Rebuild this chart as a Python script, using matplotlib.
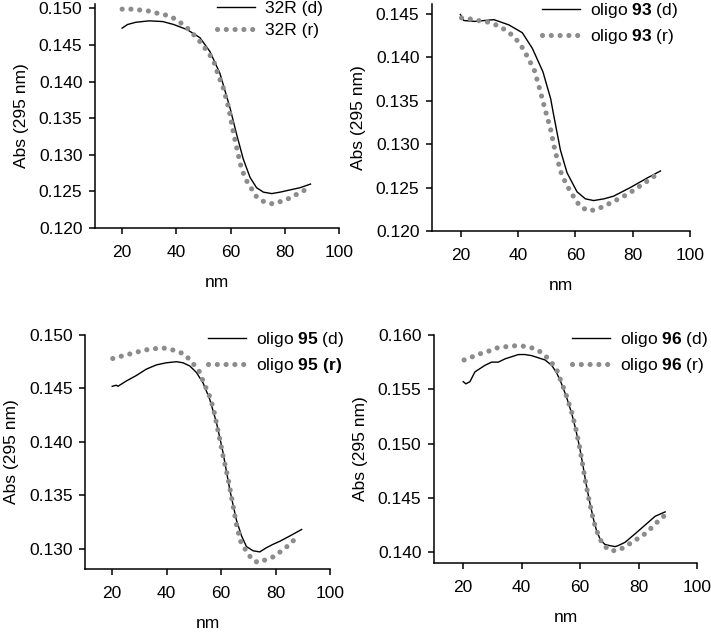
import numpy as np
import matplotlib
matplotlib.use("Agg")
import matplotlib.pyplot as plt

plt.rcParams['font.family'] = ['Liberation Sans', 'DejaVu Sans']
plt.rcParams['font.size'] = 12.5
plt.rcParams['mathtext.fontset'] = 'custom'
plt.rcParams['mathtext.rm'] = 'Liberation Sans'
plt.rcParams['mathtext.bf'] = 'Liberation Sans:bold'

# ---- data ----
# 32R
x32_d = [20, 22, 25, 30, 35, 39, 44, 48.7, 52.4, 56.1, 59.8, 62.3, 64.7, 67.2, 69.6, 72.1, 75.2, 78.3, 81.9, 85.6, 89.5]
y32_d = [0.1473, 0.1478, 0.1481, 0.1483, 0.1482, 0.1478, 0.1471, 0.1460, 0.1441, 0.1411, 0.1364, 0.1327,
         0.1294, 0.1269, 0.1255, 0.1249, 0.1247, 0.1249, 0.1252, 0.1255, 0.1260]
x32_r = [20, 23.3, 26, 29.1, 32.1, 35, 37.9, 41, 43.8, 46.7, 49.1, 51.5, 53.7, 55.5, 57.1, 58.3, 59.3, 61,
         62.9, 64.1, 66, 69.7, 72.7, 75.6, 78.3, 81.3, 84.4, 87.5]
y32_r = [0.1499, 0.1499, 0.1498, 0.1497, 0.1494, 0.1492, 0.1489, 0.1482, 0.1474, 0.1463, 0.1453, 0.1441,
         0.1429, 0.1408, 0.1394, 0.1378, 0.1364, 0.1331, 0.1299, 0.1280, 0.1264, 0.1242, 0.1235, 0.1233,
         0.1236, 0.1240, 0.1246, 0.1252]

# oligo 93
x93_d = [19.9, 21.1, 25, 31.6, 36.8, 41.5, 45, 48.7, 51.4, 52.4, 54.8, 57.1, 60.6, 63.5, 66.4, 70, 73.3,
         79.2, 85.1, 89.7]
y93_d = [0.1449, 0.1442, 0.1441, 0.1443, 0.1437, 0.1428, 0.1410, 0.1383, 0.1352, 0.1334, 0.1293, 0.1267,
         0.1245, 0.1237, 0.1235, 0.1237, 0.1240, 0.1250, 0.1261, 0.1269]
x93_r = [20.3, 23, 26, 28.6, 31.6, 34.2, 37, 39.7, 41.7, 43.2, 44.6, 45.8, 47.5, 49.5, 51.3, 53, 55.3, 58.3,
         61.7, 64.7, 67.6, 72.8, 78.6, 84.5, 89.7]
y93_r = [0.1445, 0.1444, 0.1442, 0.1441, 0.1438, 0.1434, 0.1428, 0.1419, 0.1410, 0.1401, 0.1392, 0.1384,
         0.1364, 0.1339, 0.1318, 0.1291, 0.1264, 0.1245, 0.1228, 0.1223, 0.1225, 0.1233, 0.1243, 0.1256, 0.1268]

# oligo 95
x95_d = [20, 21.5, 22.1, 25.2, 28.8, 32.5, 36.2, 39.9, 43.6, 46, 48.5, 50.9, 53.4, 55.8, 58.3, 60.7, 63.2,
         65.6, 67.5, 69.3, 71.8, 74.2, 76.7, 79, 81.6, 85.3, 89.6]
y95_d = [0.1452, 0.1453, 0.1452, 0.1457, 0.1462, 0.1468, 0.1472, 0.1474, 0.1475, 0.1474, 0.1471, 0.1465,
         0.1455, 0.1440, 0.1418, 0.1390, 0.1355, 0.1327, 0.1312, 0.1302, 0.1298, 0.1297, 0.1301, 0.1304,
         0.1307, 0.1312, 0.1318]
x95_r = [20.2, 23.1, 26.1, 29.1, 32.1, 35, 38, 40.9, 43.6, 46.6, 49.1, 51.8, 54, 55.6, 57.1, 58.9, 60.7,
         62.6, 64.2, 65.9, 67.5, 69.9, 71.2, 73.6, 76.7, 79.8, 82.6, 85.3, 88.1]
y95_r = [0.1478, 0.1480, 0.1482, 0.1484, 0.1486, 0.1487, 0.1488, 0.1487, 0.1485, 0.1482, 0.1475, 0.1467,
         0.1453, 0.1444, 0.1432, 0.1410, 0.1387, 0.1365, 0.1343, 0.1319, 0.1304, 0.1296, 0.1290, 0.1287,
         0.1290, 0.1293, 0.1299, 0.1304, 0.1312]

# oligo 96
x96_d = [20, 20.9, 22.3, 24, 25.7, 27.4, 29.7, 32, 34.3, 36.6, 38.9, 41.1, 43.4, 45.7, 48, 50.3, 52, 53.5,
         55.2, 57.1, 58.5, 59.8, 60.9, 61.9, 63.2, 64.6, 65.7, 67, 68.5, 70, 72, 73.1, 75.4, 78.9, 82.3,
         85.7, 89.1]
y96_d = [0.1557, 0.1555, 0.1557, 0.1566, 0.1569, 0.1572, 0.1575, 0.1575, 0.1578, 0.1580, 0.1582, 0.1582,
         0.1581, 0.1579, 0.1577, 0.1572, 0.1565, 0.1556, 0.1544, 0.1528, 0.1513, 0.1497, 0.1481, 0.1465,
         0.1447, 0.1430, 0.1419, 0.1411, 0.1407, 0.1406, 0.1405, 0.1406, 0.1409, 0.1417, 0.1425, 0.1433,
         0.1437]
x96_r = [20.3, 23.2, 26.1, 28.6, 31.4, 34, 36.8, 39.7, 42.3, 45, 47.7, 50.1, 52, 53.1, 55.2, 57.1, 58.5,
         59.8, 60.9, 61.9, 63.2, 64.6, 65.5, 66.6, 68, 70.6, 73.5, 76, 78.9, 81.4, 84.3, 86.9, 89.5]
y96_r = [0.1577, 0.1580, 0.1583, 0.1585, 0.1588, 0.1589, 0.1590, 0.1590, 0.1589, 0.1587, 0.1582, 0.1575,
         0.1568, 0.1560, 0.1545, 0.1529, 0.1514, 0.1497, 0.1480, 0.1464, 0.1446, 0.1429, 0.1421, 0.1413,
         0.1406, 0.1401, 0.1402, 0.1406, 0.1411, 0.1415, 0.1422, 0.1429, 0.1435]

panels = [
    dict(rect=[95, 4, 339, 228], d=(x32_d, y32_d), r=(x32_r, y32_r),
         labels=['32R (d)', '32R (r)'], ylim=(0.120, 0.1506),
         yticks=np.arange(0.120, 0.1501, 0.005), leg=(0.50, 1.012)),
    dict(rect=[432, 4, 690, 231], d=(x93_d, y93_d), r=(x93_r, y93_r),
         labels=['oligo $\\mathbf{93}$ (d)', 'oligo $\\mathbf{93}$ (r)'], ylim=(0.120, 0.1461),
         yticks=np.arange(0.120, 0.1451, 0.005), leg=(0.425, 1.012)),
    dict(rect=[85, 335, 330, 569], d=(x95_d, y95_d), r=(x95_r, y95_r),
         labels=['oligo $\\mathbf{95}$ (d)', 'oligo $\\mathbf{95\\ (r)}$'], ylim=(0.1281, 0.150),
         yticks=np.arange(0.130, 0.1501, 0.005), leg=(0.502, 1.02)),
    dict(rect=[434, 335, 697, 563], d=(x96_d, y96_d), r=(x96_r, y96_r),
         labels=['oligo $\\mathbf{96}$ (d)', 'oligo $\\mathbf{96}$ (r)'], ylim=(0.13899, 0.160),
         yticks=np.arange(0.140, 0.1601, 0.005), leg=(0.525, 1.02)),
]

W, H = 711, 632
fig = plt.figure(figsize=(W / 100, H / 100), dpi=100)

for p in panels:
    l, t, r, b = p['rect']
    ax = fig.add_axes([l / W, (H - b) / H, (r - l) / W, (b - t) / H])
    ax.plot(*p['d'], color='black', lw=1.0, label=p['labels'][0])
    ax.plot(*p['r'], color='#8c8c8c', lw=3.7, linestyle=(0, (0.01, 1.7)),
            dash_capstyle='round', label=p['labels'][1])
    ax.set_xlim(10, 100)
    ax.set_ylim(*p['ylim'])
    ax.set_xticks([20, 40, 60, 80, 100])
    ax.set_yticks(p['yticks'])
    ax.set_yticklabels(['%.3f' % v for v in p['yticks']])
    for s in ['top', 'right']:
        ax.spines[s].set_visible(False)
    for s in ['left', 'bottom']:
        ax.spines[s].set_linewidth(1.1)
    ax.tick_params(direction='out', length=4, width=1.1, labelsize=12.5)
    ax.tick_params(axis='x', pad=8)
    ax.tick_params(axis='y', pad=5)
    ax.set_xlabel('nm', fontsize=12.5, labelpad=11)
    ax.set_ylabel('Abs (295 nm)', fontsize=12.5, labelpad=7)
    ax.legend(loc='upper left', bbox_to_anchor=p['leg'], frameon=False,
              borderpad=0, borderaxespad=0, handlelength=2.2, handletextpad=0.58,
              labelspacing=0.38, fontsize=12.5)

fig.savefig('out.png', dpi=100)
